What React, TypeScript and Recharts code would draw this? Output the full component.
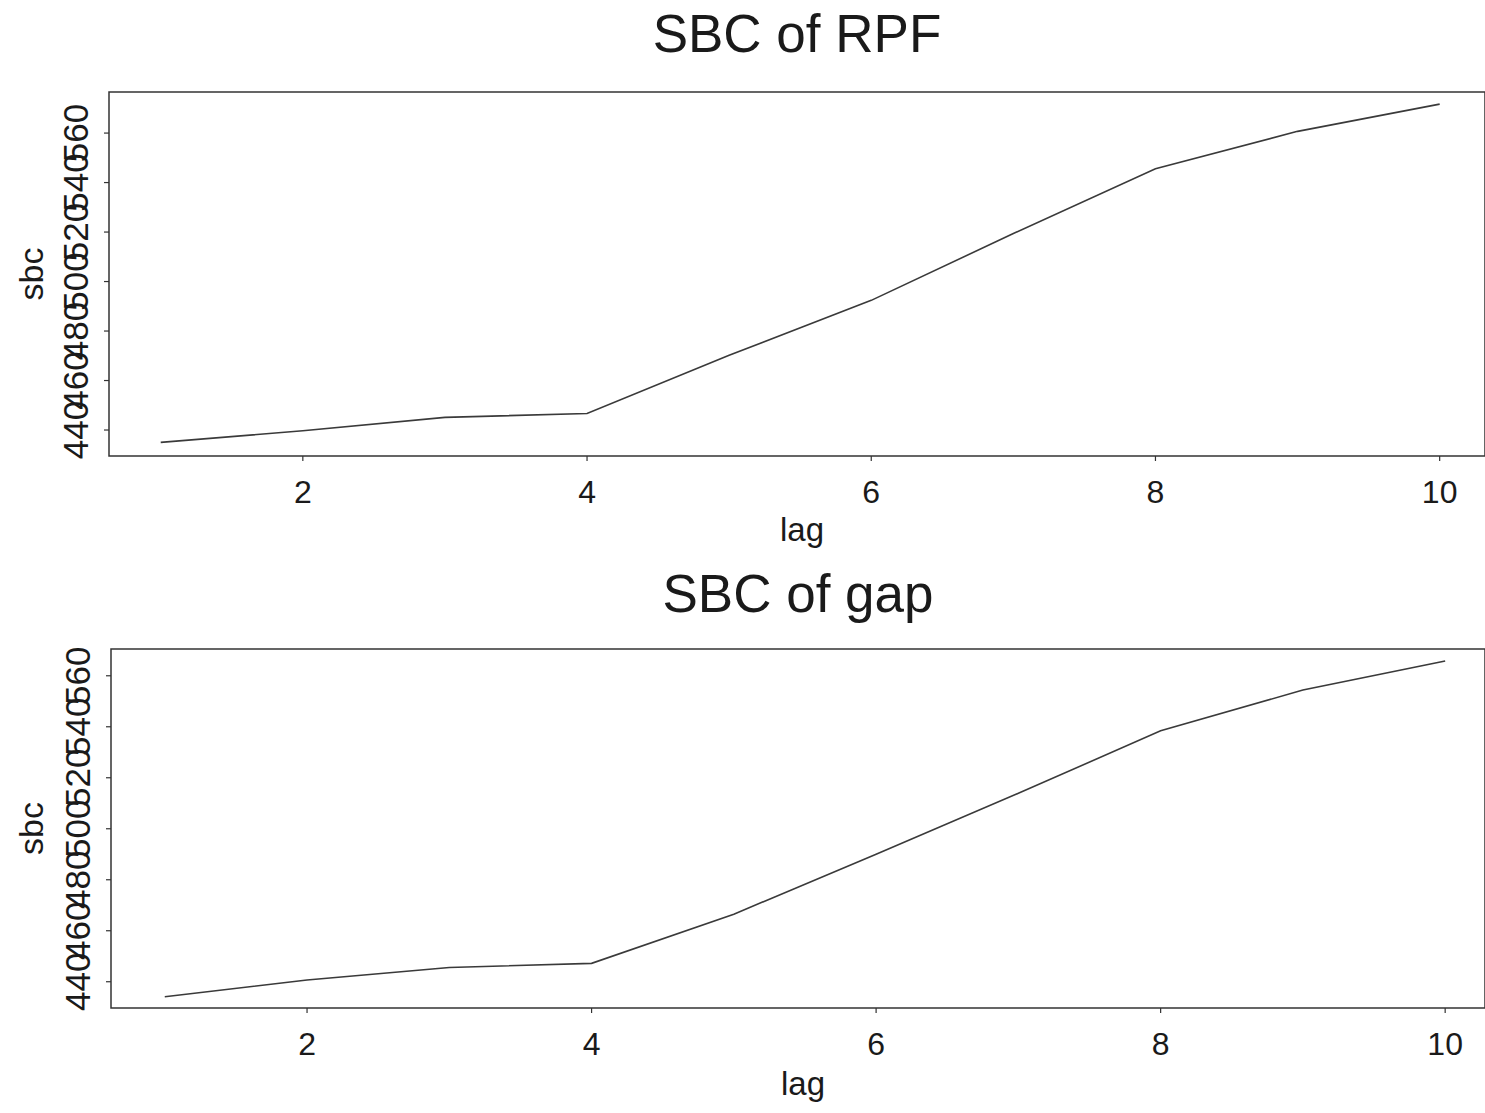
import React from "react"
import {
  LineChart,
  Line,
  XAxis,
  YAxis,
  ReferenceArea,
  Customized,
} from "recharts"

// values
const lags = [1, 2, 3, 4, 5, 6, 7, 8, 9, 10]
const sbcRpf = [435.0, 439.7, 445.1, 446.7, 470.2, 492.4, 519.4, 545.6, 560.7, 571.7]
const sbcGap = [434.1, 440.7, 445.6, 447.2, 466.5, 490.0, 513.9, 538.4, 554.4, 565.8]
const xTicks = [2, 4, 6, 8, 10]
const yTicks = [440, 460, 480, 500, 520, 540, 560]

const FONT = "'Liberation Sans', Arial, Helvetica, sans-serif"
const INK = "#1a1a1a"
const W = 1485

interface PanelProps {
  title: string
  values: number[]
  height: number
  top: number
  yAxisWidth: number
  xAxisHeight: number
  xDomain: [number, number]
  yDomain: [number, number]
  titleY: number
  lagY: number
}

function XTick({ x, y, payload }: any) {
  return (
    <text x={x} y={y} dy="0.71em" textAnchor="middle" fontSize={32} fill={INK} fontFamily={FONT}>
      {payload.value}
    </text>
  )
}

function YTick({ x, y, payload }: any) {
  return (
    <text
      x={x}
      y={y}
      transform={`rotate(-90 ${x} ${y})`}
      textAnchor="middle"
      fontSize={35}
      fill={INK}
      fontFamily={FONT}
    >
      {payload.value}
    </text>
  )
}

function Panel(p: PanelProps) {
  const data = lags.map((lag, i) => ({ lag, sbc: p.values[i] }))
  const plotTop = p.top
  const plotBottom = p.height - p.xAxisHeight
  const plotLeft = p.yAxisWidth
  const midX = (plotLeft + W) / 2
  const midY = (plotTop + plotBottom) / 2

  return (
    <LineChart
      width={W}
      height={p.height}
      data={data}
      margin={{ top: p.top, right: 0, bottom: 0, left: 0 }}
    >
      <XAxis
        type="number"
        dataKey="lag"
        domain={p.xDomain}
        ticks={xTicks}
        allowDataOverflow
        axisLine={false}
        tickLine={{ stroke: "#333", strokeWidth: 1.2 }}
        tickSize={5}
        tickMargin={19}
        height={p.xAxisHeight}
        tick={<XTick />}
      />
      <YAxis
        type="number"
        domain={p.yDomain}
        ticks={yTicks}
        allowDataOverflow
        axisLine={false}
        tickLine={{ stroke: "#333", strokeWidth: 1.2 }}
        tickSize={5}
        tickMargin={16}
        width={p.yAxisWidth}
        tick={<YTick />}
      />
      <ReferenceArea
        x1={p.xDomain[0]}
        x2={p.xDomain[1]}
        y1={p.yDomain[0]}
        y2={p.yDomain[1]}
        fill="none"
        stroke="#333"
        strokeWidth={1.5}
      />
      <Line
        type="linear"
        dataKey="sbc"
        stroke="#3a3a3a"
        strokeWidth={1.6}
        dot={false}
        isAnimationActive={false}
      />
      <Customized
        component={() => (
          <g fontFamily={FONT} fill={INK}>
            <text x={midX} y={p.titleY} textAnchor="middle" fontSize={53}>
              {p.title}
            </text>
            <text x={midX + 5} y={p.lagY} textAnchor="middle" fontSize={33}>
              lag
            </text>
            <text
              x={43}
              y={midY}
              transform={`rotate(-90 43 ${midY})`}
              textAnchor="middle"
              fontSize={34}
            >
              sbc
            </text>
          </g>
        )}
      />
    </LineChart>
  )
}

export default function App() {
  return (
    <div
      style={{
        position: "absolute",
        left: 0,
        top: 0,
        width: W,
        height: 1113,
        overflow: "hidden",
        background: "#fff",
      }}
    >
      <div style={{ position: "absolute", left: 0, top: 0 }}>
        <Panel
          title="SBC of RPF"
          values={sbcRpf}
          height={556}
          top={92}
          yAxisWidth={109}
          xAxisHeight={100}
          xDomain={[0.636, 10.319]}
          yDomain={[429.5, 576.6]}
          titleY={52}
          lagY={541}
        />
      </div>
      <div style={{ position: "absolute", left: 0, top: 556 }}>
        <Panel
          title="SBC of gap"
          values={sbcGap}
          height={557}
          top={93}
          yAxisWidth={111}
          xAxisHeight={105}
          xDomain={[0.622, 10.28]}
          yDomain={[429.7, 570.5]}
          titleY={56}
          lagY={539}
        />
      </div>
    </div>
  )
}
